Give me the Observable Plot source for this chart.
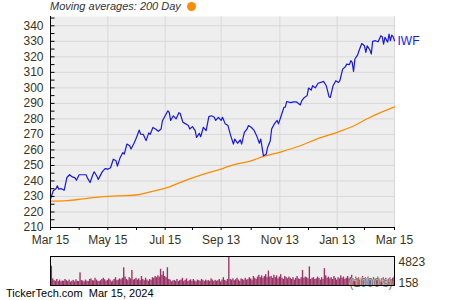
<!DOCTYPE html>
<html><head><meta charset="utf-8">
<script src="https://cdn.jsdelivr.net/npm/d3@7"></script>
<script src="https://cdn.jsdelivr.net/npm/@observablehq/plot@0.6"></script>
<style>
body{margin:0;background:#fff;}
#wrap{position:relative;width:450px;height:300px;overflow:hidden;font-family:"Liberation Sans",Arial,sans-serif;}
#main{position:absolute;left:0;top:0}
#vol{position:absolute;left:0;top:250px}
#title{position:absolute;left:50px;top:0px;font-size:11px;font-style:italic;color:#333;white-space:nowrap;line-height:13px}
#dot{display:inline-block;width:9px;height:9px;border-radius:50%;background:#ff8c00;margin-left:6px;vertical-align:-1px}
#foot{position:absolute;left:6px;top:287px;font-size:11px;line-height:12px;color:#000;white-space:pre}
</style></head>
<body>
<div id="wrap">
  <div id="main"></div>
  <div id="vol"></div>
  <div id="title">Moving averages: 200 Day<span id="dot"></span></div>
  <div id="foot">TickerTech.com  Mar 15, 2024</div>
</div>
<script>
// ---- data ----
const holidays = ["2023-04-07","2023-05-29","2023-06-19","2023-07-04","2023-09-04","2023-11-23","2023-12-25","2024-01-01","2024-01-15","2024-02-19"];
const xTickDates = ["2023-03-15","2023-05-15","2023-07-15","2023-09-13","2023-11-13","2024-01-13","2024-03-15"];
const xTickLabels = ["Mar 15","May 15","Jul 15","Sep 13","Nov 13","Jan 13","Mar 15"];
const xMinorDates = ["2023-04-14","2023-06-14","2023-08-14","2023-10-13","2023-12-13","2024-02-13"];
const yMajor = [210,220,230,240,250,260,270,280,290,300,310,320,330,340];
const yMinor = [210,215,220,225,230,235,240,245,250,255,260,265,270,275,280,285,290,295,300,305,310,315,320,325,330,335,340,345];

// IWF close, by trading-session index
const priceIdx = [
  0,2,4,5,6,8,10,12,14,16,
  18,19,21,23,26,27,29,31,32,34,
  35,38,40,42,44,46,48,49,51,53,
  54,56,58,59,61,63,65,66,68,70,
  72,73,75,77,79,81,82,84,86,87,
  88,90,92,94,95,97,99,101,102,104,
  106,107,109,110,112,114,116,118,120,121,
  123,125,126,128,130,132,134,135,137,139,
  140,142,144,145,147,149,151,153,154,156,
  158,159,161,162,164,166,167,169,171,172,
  173,176,178,180,183,184,186,188,189,191,
  192,194,196,198,200,202,203,204,205,207,
  209,211,212,214,216,217,219,220,221,222,
  223,225,226,228,230,231,232,234,235,236,
  238,240,242,243,244,245,247,248,249,250,
  251,252];
const priceVal = [
  228.3,233.7,235,236.9,234.7,235,234,242.2,244,242.6,
  242,240.4,244,244,244,242,239,244,245.9,243,
  241,246,248,247.6,248.5,254,253,249.6,255,258.3,
  257.3,263.8,262.7,260.6,264,268,272.8,270.2,270,266,
  271,270,274.5,273.5,272,273.5,278.8,282,285.2,284,
  279,282,280,284,283.5,277.8,276.8,275.7,273.5,275,
  272.5,268,270.7,268.5,274.6,272.5,281.5,282,281,279,
  281,279,281,276.8,275.7,269.2,263.8,267,264.3,266.4,
  263.8,271.3,273.5,275.7,274.6,272.8,269.2,264.3,267,256.2,
  257.2,261.6,265.9,273.5,276.8,279,276.8,282,287.4,287.6,
  291.2,290.5,291,291,289,291.6,293.8,295,299.9,298.6,
  301.4,300,303,303.5,304.2,301.4,298.1,294.3,293.8,301.4,
  304.6,303.5,304.6,312.1,313.6,315.3,315,317.5,316.4,310.6,
  318.6,321.3,323.9,328.6,327.1,322.8,327.1,324.4,321.8,330,
  330.4,329.7,333.6,333,328.2,332.6,329.5,334.7,330.4,334,
  333,330.4];

// 200-day moving average
const maIdx = [0,12,24,37,49,64,73,86,98,110,127,134,147,156,169,183,195,211,222,232,242,252];
const maVal = [227,227.3,228.5,229.8,230.4,231.1,233,235.8,240.1,243.8,248.3,250.4,253,255.8,258.8,262.7,267,271.7,275.4,280.1,284.2,287.8];

// daily volume (1000's)
const volume = [
  900,3200,1100,800,700,1000,650,900,600,750,
  700,1000,800,650,900,550,700,850,600,950,
  700,650,2100,800,750,600,900,700,650,1000,
  1100,800,750,1200,900,700,650,800,1000,1200,
  950,700,850,1100,900,600,750,1000,1300,800,
  900,1100,950,1200,2950,1400,1000,800,1300,1100,
  2500,900,1000,1200,900,1100,800,1500,1000,800,
  1200,900,700,1000,850,1300,1200,1500,1300,1600,
  1400,2700,1700,2300,1500,1300,2950,1000,900,600,
  750,850,700,1000,650,800,900,1200,700,850,
  1100,650,800,950,700,1000,750,600,900,800,
  700,1000,850,650,900,750,800,700,1100,900,
  650,850,700,800,1000,600,900,1300,850,700,
  1000,4823,1000,900,1100,800,950,1200,900,700,
  1100,1000,850,1200,900,1000,1300,1100,900,1500,
  1200,1000,1400,1700,1300,1600,1200,1500,1800,1300,
  2400,1400,1500,1200,1700,1300,1600,1100,1400,1800,
  1200,1000,1500,1300,1100,1400,1200,1000,1300,900,
  1200,1500,1100,1000,1300,2500,1200,1400,1300,1100,
  3100,1000,1200,1300,1000,1100,1400,1200,900,1300,
  1000,2800,1600,1200,1400,1100,1300,1000,1500,1200,
  900,1300,1100,1600,1200,1400,1000,1200,1500,1100,
  1300,1700,1200,1000,1400,1100,1300,900,1200,1500,
  1000,1300,1100,1400,1000,1200,900,1300,1100,1000,
  1400,1200,900,1100,1300,1000,1200,900,1100,1300,
  1000,1200,1400];
const volLabels = [4823, 158];

// ---- trading calendar ----
const fmt = d3.utcFormat("%Y-%m-%d");
const hol = new Set(holidays);
const sessions = d3.utcDays(new Date("2023-03-15T00:00Z"), new Date("2024-03-16T00:00Z"))
  .filter(d => d.getUTCDay() % 6 !== 0 && !hol.has(fmt(d)));
const idxOf = s => d3.bisectLeft(sessions, new Date(s + "T00:00Z"));
const lastIdx = sessions.length - 1;
const xMajor = xTickDates.map(idxOf);
const xMinor = xMinorDates.map(idxOf);
const labelOf = new Map(xMajor.map((v, i) => [v, xTickLabels[i]]));

const price = priceIdx.map((i, k) => ({i, v: priceVal[k]}));
const ma = maIdx.map((i, k) => ({i, v: maVal[k]}));

const tickSym = {draw(ctx) { ctx.moveTo(0, 0); ctx.lineTo(4, 0); }};
const font = "Liberation Sans, Arial, sans-serif";
const txt = "#3b3318";

const main = Plot.plot({
  width: 450, height: 250,
  marginLeft: 50, marginRight: 56, marginTop: 16, marginBottom: 23,
  x: {type: "linear", domain: [0, lastIdx], label: null},
  y: {domain: [210, 346], label: null},
  style: {background: "transparent", fontFamily: font, fontSize: "12px", color: txt},
  marks: [
    Plot.frame({fill: "#eeeeee", stroke: null}),
    Plot.gridY(yMajor, {stroke: "#d8d8d8", strokeOpacity: 1}),
    Plot.gridX(xMajor, {stroke: "#d8d8d8", strokeOpacity: 1}),
    Plot.line(ma, {x: "i", y: "v", stroke: "#ff8c00", strokeWidth: 1.3, curve: "monotone-x"}),
    Plot.line(price, {x: "i", y: "v", stroke: "#1818dd", strokeWidth: 1.2}),
    Plot.text([price[price.length - 1]], {x: "i", y: "v", text: () => "IWF", textAnchor: "start", dx: 3, fill: "#1a1aee", fontSize: 12}),
    Plot.ruleX([0], {stroke: "black"}),
    Plot.ruleY([210], {stroke: "black"}),
    Plot.dot(yMinor, {x: () => 0, y: d => d, symbol: tickSym, r: 3, stroke: "black", fill: "none", strokeWidth: 1}),
    Plot.axisY(yMajor, {tickSize: 0, tickPadding: 7, fill: txt}),
    Plot.axisX([...xMajor, ...xMinor], {tickSize: 3, tickFormat: () => "", stroke: "black"}),
    Plot.axisX(xMajor, {tickSize: 0, tickPadding: 8, tickFormat: d => labelOf.get(d), fill: txt})
  ]
});
document.getElementById("main").append(main);

const vol = Plot.plot({
  width: 450, height: 40,
  marginLeft: 50, marginRight: 56, marginTop: 6, marginBottom: 5,
  x: {type: "linear", domain: [0, lastIdx], axis: null},
  y: {domain: [0, volLabels[0]], axis: null},
  style: {background: "transparent", fontFamily: font, fontSize: "12px", color: txt},
  marks: [
    Plot.frame({fill: "#eeeeee", stroke: null}),
    Plot.rectY(volume, {x1: (d, i) => i - 0.5, x2: (d, i) => i + 0.5, y1: 0, y2: d => d, fill: "#9b3366", clip: true}),
    Plot.text(["(1000's)"], {frameAnchor: "bottom-right", textAnchor: "end", lineAnchor: "bottom", dx: -2, dy: 1, fill: "#55806c", stroke: "white", strokeWidth: 1.5, strokeOpacity: 0.6, fontSize: 12}),
    Plot.frame({stroke: "black"}),
    Plot.text([volLabels[0]], {frameAnchor: "top-right", textAnchor: "start", lineAnchor: "top", dx: 4, dy: 1, text: d => String(d), fill: txt, fontSize: 12}),
    Plot.text([volLabels[1]], {frameAnchor: "bottom-right", textAnchor: "start", lineAnchor: "bottom", dx: 4, dy: 1, text: d => String(d), fill: txt, fontSize: 12})
  ]
});
document.getElementById("vol").append(vol);
</script>
</body></html>
